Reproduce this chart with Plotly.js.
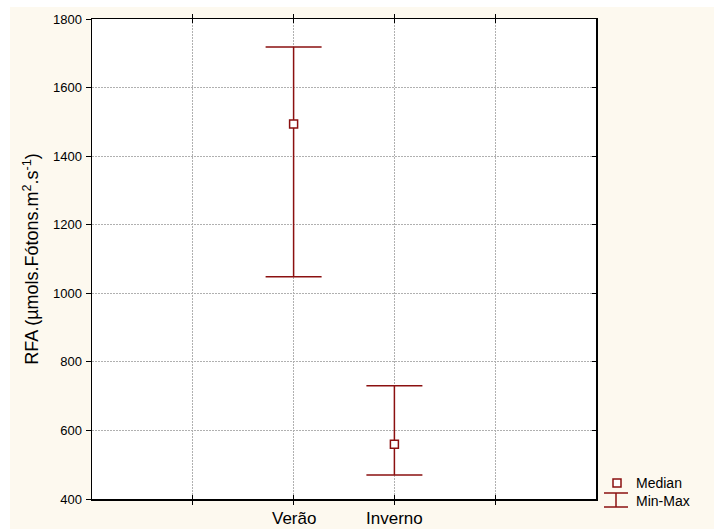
<!DOCTYPE html>
<html><head><meta charset="utf-8">
<script src="https://cdn.plot.ly/plotly-3.0.1.min.js"></script>
<style>html,body{margin:0;padding:0;background:#fff;}#plot{width:714px;height:529px;}</style>
</head><body><div id="plot"></div>
<script>
const categories = ["Verão", "Inverno"];
const positions = [2, 3];
const medianValues = [1494, 560];
const minValues = [1048, 470];
const maxValues = [1718, 730];
const xTickVals = [1, 2, 3, 4];
const yTickVals = [400, 600, 800, 1000, 1200, 1400, 1600, 1800];

const red = "#8b1010";
const L = 92, T = 19, R = 596, B = 499;
const W = R - L, H = B - T;
const px = x => (x - L) / W;
const py = y => (B - y) / H;

const trace = {
  x: positions, y: medianValues, type: "scatter", mode: "markers",
  marker: {symbol: "square", size: 8, color: "#ffffff", line: {color: red, width: 1.5}},
  error_y: {
    type: "data", symmetric: false,
    array: maxValues.map((v, i) => v - medianValues[i]),
    arrayminus: minValues.map((v, i) => medianValues[i] - v),
    color: red, thickness: 1.5, width: 28
  },
  text: categories, hoverinfo: "text+y", showlegend: false, cliponaxis: false
};
const dummy = {x: [0], y: [400], yaxis: "y2", type: "scatter", mode: "markers",
  marker: {opacity: 0}, showlegend: false, hoverinfo: "skip"};

const font = "Arial, 'Liberation Sans', sans-serif";
const grid = {showgrid: true, gridcolor: "#b0b0b0", griddash: "2px,1px", gridwidth: 1};
const catLabels = categories.map((c, i) => ({
  xref: "x", yref: "paper", x: positions[i], y: py(518), xanchor: "center", yanchor: "middle",
  text: c, showarrow: false, font: {size: 17}
}));
const layout = {
  width: 714, height: 529,
  margin: {l: L, r: 714 - R, t: T, b: 529 - B},
  paper_bgcolor: "#fdf9ef", plot_bgcolor: "#ffffff",
  font: {family: font, color: "#000"},
  showlegend: false,
  xaxis: Object.assign({range: [0, 5], tickvals: xTickVals, showticklabels: false,
    ticks: "inside", ticklen: 4, tickcolor: "#000", showline: true, linecolor: "#000", linewidth: 1.5,
    mirror: "allticks", zeroline: false, fixedrange: true}, grid),
  yaxis: Object.assign({range: [400, 1800], tickvals: yTickVals, ticks: "outside", ticklen: 5, tickcolor: "#000",
    showline: true, linecolor: "#000", linewidth: 1.5, mirror: true, zeroline: false,
    tickfont: {size: 13}, ticklabelstandoff: 1,
    title: {text: "RFA (µmols.Fótons.m<sup>2</sup>.s<sup>-1</sup>)", font: {size: 18}, standoff: 9}}, grid),
  yaxis2: {range: [400, 1800], tickvals: yTickVals, overlaying: "y", side: "right",
    ticks: "inside", ticklen: 4, tickcolor: "#000", showticklabels: false, showgrid: false,
    zeroline: false, showline: false},
  shapes: [
    {type: "rect", xref: "paper", yref: "paper", x0: px(0), x1: px(714), y0: py(0), y1: py(7),
      fillcolor: "#ffffff", line: {width: 0}, layer: "below"},
    {type: "rect", xref: "paper", yref: "paper", x0: px(0), x1: px(10), y0: py(0), y1: py(529),
      fillcolor: "#ffffff", line: {width: 0}, layer: "below"},
    {type: "rect", xref: "paper", yref: "paper", x0: px(613), x1: px(621), y0: py(479), y1: py(487),
      fillcolor: "#ffffff", line: {color: red, width: 1.5}},
    {type: "line", xref: "paper", yref: "paper", x0: px(604), x1: px(628), y0: py(493), y1: py(493),
      line: {color: red, width: 1.5}},
    {type: "line", xref: "paper", yref: "paper", x0: px(616), x1: px(616), y0: py(493), y1: py(507),
      line: {color: red, width: 1.5}},
    {type: "line", xref: "paper", yref: "paper", x0: px(604), x1: px(628), y0: py(507), y1: py(507),
      line: {color: red, width: 1.5}}
  ],
  annotations: catLabels.concat([
    {xref: "paper", yref: "paper", x: px(634), y: py(483), xanchor: "left", yanchor: "middle",
      text: "Median", showarrow: false, font: {size: 14}},
    {xref: "paper", yref: "paper", x: px(634), y: py(501), xanchor: "left", yanchor: "middle",
      text: "Min-Max", showarrow: false, font: {size: 14}}
  ])
};
Plotly.newPlot("plot", [trace, dummy], layout, {displayModeBar: false, staticPlot: true});
</script></body></html>
